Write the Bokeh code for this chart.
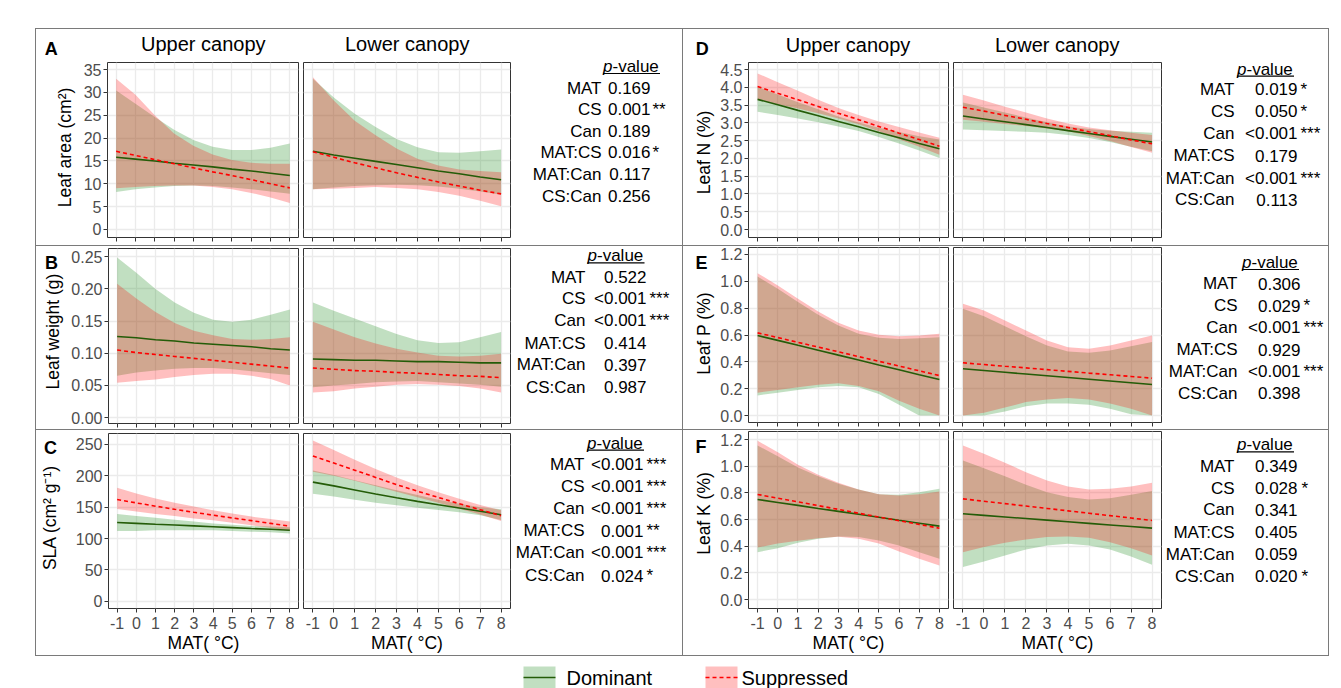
import math
from bokeh.plotting import figure
from bokeh.models import Range1d, FixedTicker, Spacer, LinearAxis, Grid, NumeralTickFormatter
from bokeh.layouts import row, column
from bokeh.embed import file_html
from bokeh.resources import INLINE
from bokeh.core.properties import value

FONT = "Liberation Sans"

# ---------------- data ----------------
mat = [-1, 0, 1, 2, 3, 4, 5, 6, 7, 8]

# A: Leaf area
A_up_dom_fit = [15.8, 15.4, 15.0, 14.5, 14.1, 13.7, 13.2, 12.8, 12.3, 11.8]
A_up_dom_hi = [30.4, 27.5, 24.6, 21.8, 19.6, 18.1, 17.4, 17.4, 17.9, 18.8]
A_up_dom_lo = [8.2, 8.8, 9.2, 9.5, 9.6, 9.5, 9.2, 8.8, 8.3, 7.8]
A_up_sup_fit = [17.1, 16.2, 15.3, 14.4, 13.5, 12.6, 11.8, 10.9, 10.0, 9.1]
A_up_sup_hi = [33.0, 29.5, 25.0, 21.0, 18.3, 16.4, 15.2, 14.6, 14.4, 14.4]
A_up_sup_lo = [9.0, 9.3, 9.5, 9.6, 9.6, 9.3, 8.8, 8.0, 7.0, 5.8]
A_lo_dom_fit = [17.1, 16.3, 15.6, 14.9, 14.2, 13.5, 12.8, 12.2, 11.5, 10.9]
A_lo_dom_hi = [33.0, 28.9, 25.3, 22.4, 19.8, 18.0, 16.9, 16.8, 17.1, 17.5]
A_lo_dom_lo = [8.8, 9.2, 9.5, 9.7, 9.8, 9.7, 9.4, 8.9, 8.3, 7.6]
A_lo_sup_fit = [17.0, 15.8, 14.6, 13.5, 12.4, 11.4, 10.4, 9.5, 8.6, 7.8]
A_lo_sup_hi = [33.3, 28.2, 23.8, 20.6, 17.7, 15.5, 14.0, 13.1, 12.8, 12.5]
A_lo_sup_lo = [8.8, 8.9, 9.1, 9.3, 9.1, 8.8, 8.2, 7.4, 6.3, 5.1]

# B: Leaf weight
B_up_dom_fit = [0.126, 0.124, 0.121, 0.119, 0.116, 0.114, 0.112, 0.110, 0.107, 0.105]
B_up_dom_hi = [0.249, 0.225, 0.200, 0.179, 0.163, 0.152, 0.149, 0.152, 0.160, 0.168]
B_up_dom_lo = [0.065, 0.070, 0.073, 0.076, 0.077, 0.077, 0.075, 0.072, 0.069, 0.066]
B_up_sup_fit = [0.105, 0.101, 0.098, 0.095, 0.092, 0.089, 0.086, 0.083, 0.080, 0.077]
B_up_sup_hi = [0.208, 0.185, 0.164, 0.147, 0.135, 0.128, 0.122, 0.121, 0.122, 0.125]
B_up_sup_lo = [0.054, 0.057, 0.059, 0.063, 0.066, 0.068, 0.068, 0.065, 0.060, 0.050]
B_lo_dom_fit = [0.091, 0.090, 0.089, 0.089, 0.088, 0.087, 0.087, 0.086, 0.085, 0.085]
B_lo_dom_hi = [0.179, 0.166, 0.154, 0.142, 0.130, 0.120, 0.116, 0.117, 0.125, 0.133]
B_lo_dom_lo = [0.047, 0.050, 0.052, 0.055, 0.056, 0.057, 0.055, 0.053, 0.051, 0.048]
B_lo_sup_fit = [0.077, 0.075, 0.073, 0.072, 0.070, 0.069, 0.067, 0.065, 0.064, 0.062]
B_lo_sup_hi = [0.149, 0.137, 0.125, 0.115, 0.107, 0.101, 0.096, 0.095, 0.096, 0.099]
B_lo_sup_lo = [0.039, 0.041, 0.045, 0.048, 0.051, 0.052, 0.051, 0.049, 0.045, 0.039]

# C: SLA
C_up_dom_fit = [125.5, 124.2, 122.8, 121.5, 120.1, 118.7, 117.4, 116.0, 114.7, 113.3]
C_up_dom_hi = [139, 136, 133, 130, 127, 124, 122, 120, 119, 118]
C_up_dom_lo = [112, 112, 113, 113, 113, 113, 112, 111, 110, 108]
C_up_sup_fit = [162.2, 156.8, 151.6, 146.6, 141.8, 137.2, 132.8, 128.5, 124.1, 119.7]
C_up_sup_hi = [181, 172, 164, 157, 151, 145, 140, 135, 131, 127]
C_up_sup_lo = [147, 143, 139, 136, 132, 129, 125, 121, 117, 112]
C_lo_dom_fit = [190, 184, 177.5, 171, 165, 159.3, 154, 148.8, 143.5, 138]
C_lo_dom_hi = [208.5, 201.5, 193, 185, 177, 169.5, 162, 155.5, 150, 146.5]
C_lo_dom_lo = [171.5, 167, 162, 157, 153, 149, 145.5, 142, 137, 129.5]
C_lo_sup_fit = [231.5, 220.5, 209, 197.5, 186, 175.5, 165.5, 155.5, 146, 136.5]
C_lo_sup_hi = [256.5, 241, 225.5, 211, 197.5, 185, 174, 163.5, 153.5, 145]
C_lo_sup_lo = [206.5, 200, 192, 183.5, 174.5, 166, 157, 147.5, 138.5, 128]

# D: Leaf N
D_up_dom_fit = [3.66, 3.51, 3.35, 3.20, 3.04, 2.89, 2.73, 2.58, 2.42, 2.27]
D_up_dom_hi = [4.01, 3.80, 3.58, 3.38, 3.18, 3.01, 2.86, 2.74, 2.62, 2.53]
D_up_dom_lo = [3.31, 3.22, 3.12, 3.02, 2.90, 2.77, 2.60, 2.42, 2.22, 2.01]
D_up_sup_fit = [4.02, 3.83, 3.65, 3.46, 3.27, 3.09, 2.90, 2.71, 2.53, 2.34]
D_up_sup_hi = [4.39, 4.14, 3.90, 3.65, 3.42, 3.22, 3.04, 2.88, 2.73, 2.58]
D_up_sup_lo = [3.65, 3.52, 3.40, 3.27, 3.12, 2.96, 2.76, 2.54, 2.33, 2.10]
D_lo_dom_fit = [3.19, 3.11, 3.03, 2.95, 2.87, 2.78, 2.70, 2.62, 2.54, 2.46]
D_lo_dom_hi = [3.57, 3.43, 3.29, 3.15, 3.02, 2.90, 2.83, 2.78, 2.75, 2.72]
D_lo_dom_lo = [2.81, 2.79, 2.77, 2.75, 2.72, 2.66, 2.57, 2.46, 2.33, 2.20]
D_lo_sup_fit = [3.44, 3.33, 3.21, 3.10, 2.98, 2.87, 2.75, 2.64, 2.52, 2.41]
D_lo_sup_hi = [3.79, 3.63, 3.45, 3.29, 3.12, 2.98, 2.87, 2.79, 2.72, 2.66]
D_lo_sup_lo = [3.09, 3.03, 2.97, 2.91, 2.84, 2.76, 2.63, 2.49, 2.32, 2.16]

# E: Leaf P
E_up_dom_fit = [0.596, 0.560, 0.523, 0.487, 0.450, 0.414, 0.377, 0.341, 0.304, 0.268]
E_up_dom_hi = [1.036, 0.944, 0.845, 0.750, 0.671, 0.609, 0.579, 0.571, 0.576, 0.584]
E_up_dom_lo = [0.15, 0.17, 0.19, 0.21, 0.22, 0.21, 0.16, 0.08, 0.0, 0.0]
E_up_sup_fit = [0.616, 0.581, 0.545, 0.510, 0.475, 0.439, 0.404, 0.369, 0.333, 0.298]
E_up_sup_hi = [1.061, 0.969, 0.870, 0.775, 0.691, 0.634, 0.601, 0.591, 0.596, 0.609]
E_up_sup_lo = [0.17, 0.19, 0.21, 0.23, 0.24, 0.22, 0.18, 0.11, 0.05, 0.0]
E_lo_dom_fit = [0.348, 0.335, 0.322, 0.309, 0.296, 0.283, 0.270, 0.257, 0.244, 0.231]
E_lo_dom_hi = [0.795, 0.740, 0.666, 0.591, 0.522, 0.477, 0.467, 0.484, 0.517, 0.547]
E_lo_dom_lo = [0.0, 0.0, 0.03, 0.07, 0.09, 0.09, 0.08, 0.05, 0.01, 0.0]
E_lo_sup_fit = [0.393, 0.380, 0.367, 0.355, 0.342, 0.329, 0.316, 0.304, 0.291, 0.278]
E_lo_sup_hi = [0.832, 0.783, 0.708, 0.634, 0.559, 0.509, 0.497, 0.522, 0.559, 0.596]
E_lo_sup_lo = [0.0, 0.02, 0.06, 0.10, 0.12, 0.13, 0.12, 0.09, 0.05, 0.0]

# F: Leaf K
F_up_dom_fit = [0.750, 0.728, 0.706, 0.683, 0.661, 0.639, 0.617, 0.594, 0.572, 0.550]
F_up_dom_hi = [1.155, 1.075, 0.990, 0.925, 0.868, 0.825, 0.790, 0.785, 0.805, 0.830]
F_up_dom_lo = [0.355, 0.385, 0.425, 0.455, 0.473, 0.468, 0.443, 0.405, 0.355, 0.305]
F_up_sup_fit = [0.788, 0.760, 0.732, 0.704, 0.676, 0.647, 0.619, 0.591, 0.563, 0.535]
F_up_sup_hi = [1.190, 1.105, 1.010, 0.935, 0.875, 0.825, 0.790, 0.780, 0.790, 0.810]
F_up_sup_lo = [0.390, 0.420, 0.440, 0.460, 0.470, 0.455, 0.420, 0.360, 0.305, 0.255]
F_lo_dom_fit = [0.643, 0.631, 0.619, 0.607, 0.595, 0.583, 0.571, 0.559, 0.547, 0.535]
F_lo_dom_hi = [1.043, 0.985, 0.925, 0.860, 0.805, 0.768, 0.750, 0.760, 0.785, 0.813]
F_lo_dom_lo = [0.243, 0.285, 0.330, 0.375, 0.405, 0.418, 0.405, 0.375, 0.323, 0.260]
F_lo_sup_fit = [0.755, 0.737, 0.719, 0.701, 0.683, 0.665, 0.647, 0.629, 0.611, 0.593]
F_lo_sup_hi = [1.155, 1.093, 1.025, 0.955, 0.893, 0.848, 0.825, 0.830, 0.848, 0.875]
F_lo_sup_lo = [0.355, 0.393, 0.425, 0.450, 0.468, 0.473, 0.463, 0.430, 0.385, 0.330]

# axis ticks
yticks_A = [0, 5, 10, 15, 20, 25, 30, 35]
yticks_B = [0.0, 0.05, 0.10, 0.15, 0.20, 0.25]
yticks_C = [0, 50, 100, 150, 200, 250]
yticks_D = [0.0, 0.5, 1.0, 1.5, 2.0, 2.5, 3.0, 3.5, 4.0, 4.5]
yticks_EF = [0.0, 0.2, 0.4, 0.6, 0.8, 1.0, 1.2]

# p-value tables
terms = ["MAT", "CS", "Can", "MAT:CS", "MAT:Can", "CS:Can"]
pv_A = ["0.169", "0.001", "0.189", "0.016", "0.117", "0.256"]
st_A = ["", "**", "", "*", "", ""]
pv_B = ["0.522", "<0.001", "<0.001", "0.414", "0.397", "0.987"]
st_B = ["", "***", "***", "", "", ""]
pv_C = ["<0.001", "<0.001", "<0.001", "0.001", "<0.001", "0.024"]
st_C = ["***", "***", "***", "**", "***", "*"]
pv_D = ["0.019", "0.050", "<0.001", "0.179", "<0.001", "0.113"]
st_D = ["*", "*", "***", "", "***", ""]
pv_E = ["0.306", "0.029", "<0.001", "0.929", "<0.001", "0.398"]
st_E = ["", "*", "***", "", "***", ""]
pv_F = ["0.349", "0.028", "0.341", "0.405", "0.059", "0.020"]
st_F = ["", "*", "", "", "", "*"]

# ---------------- style ----------------
GREEN = "#228B22"
GREEN_A = 0.28
RED = "#FF0000"
RED_A = 0.25
DOM_LINE = "#245c08"
SUP_LINE = "#ff0000"
BORDER = "#7a7a7a"
GRID = "#ebebeb"
TICK_TXT = "#4d4d4d"


def blank(width, height):
    p = figure(width=width, height=height, x_range=Range1d(0, width), y_range=Range1d(height, 0),
               x_axis_type=None, y_axis_type=None, toolbar_location=None, output_backend="svg",
               min_border=0, title_location=None, frame_align=False)
    p.outline_line_color = None
    return p


def panel(width, height, bl, br, bt, bb, yr, dom, sup, yticks, yfmt=None, show_y=False, xlab=False):
    p = figure(width=width, height=height, x_range=Range1d(-1.45, 8.45), y_range=Range1d(*yr),
               x_axis_type=None, y_axis_type=None, toolbar_location=None, output_backend="svg",
               min_border_left=bl, min_border_right=br, min_border_top=bt, min_border_bottom=bb,
               frame_align=False, title_location=None)
    p.outline_line_color = "#333333"
    p.outline_line_width = 1
    p.add_layout(Grid(dimension=0, ticker=FixedTicker(ticks=mat), grid_line_color=GRID, grid_line_width=1.3))
    p.add_layout(Grid(dimension=1, ticker=FixedTicker(ticks=yticks), grid_line_color=GRID, grid_line_width=1.3))

    p.varea(x=mat, y1=dom[2], y2=dom[1], fill_color=GREEN, fill_alpha=GREEN_A)
    p.varea(x=mat, y1=sup[2], y2=sup[1], fill_color=RED, fill_alpha=RED_A)
    p.line(x=mat, y=dom[0], line_color=DOM_LINE, line_width=1.6)
    p.line(x=mat, y=sup[0], line_color=SUP_LINE, line_width=1.6, line_dash="4 3")

    xa = LinearAxis(ticker=FixedTicker(ticks=mat), axis_line_color=None,
                    major_tick_line_color="#333333", major_tick_out=4, major_tick_in=0,
                    minor_tick_line_color=None, major_label_text_font=FONT,
                    major_label_overrides={-1: "-1"})
    if xlab:
        xa.major_label_text_font_size = "16px"
        xa.major_label_text_color = TICK_TXT
        xa.major_label_standoff = 4
        xa.axis_label = "MAT( °C)"
        xa.axis_label_text_font = FONT
        xa.axis_label_text_font_size = "17.5px"
        xa.axis_label_text_font_style = "normal"
        xa.axis_label_text_color = "black"
        xa.axis_label_standoff = 1
    else:
        xa.major_label_text_font_size = "1px"
        xa.major_label_text_color = None
        xa.major_label_standoff = 0
    p.add_layout(xa, "below")

    if show_y:
        ya = LinearAxis(ticker=FixedTicker(ticks=yticks), formatter=NumeralTickFormatter(format=yfmt),
                        axis_line_color=None, major_tick_line_color="#333333", major_tick_out=4,
                        major_tick_in=0, minor_tick_line_color=None, major_label_text_font=FONT,
                        major_label_text_font_size="16px", major_label_text_color=TICK_TXT,
                        major_label_standoff=2)
        p.add_layout(ya, "left")
    return p


def heading(width, height, x0, y0, text, cx, cy):
    p = blank(width, height)
    p.text(x=[cx - x0], y=[cy - y0 + 0.8], text=[text], text_font=value(FONT), text_font_size="20px",
           text_align="center", text_baseline="middle", text_color="black")
    return p


def strip(width, height, x0, y0, letter, lx, ly, ylabel, tx, ty):
    p = blank(width, height)
    p.text(x=[lx - x0], y=[ly - y0], text=[letter], text_font=value(FONT), text_font_size="18px",
           text_font_style="bold", text_align="center", text_baseline="middle", text_color="black")
    p.text(x=[tx - x0], y=[ty - y0], text=[ylabel], angle=math.pi / 2, text_font=value(FONT),
           text_font_size="17.5px", text_align="center", text_baseline="middle", text_color="black")
    return p


def table(width, height, x0, y0, hc, hy, lr, vr, sl, rows_y, pv, st):
    p = blank(width, height)
    ys = [r - y0 + 0.8 for r in rows_y]
    common = dict(text_font=value(FONT), text_font_size="17px", text_baseline="middle", text_color="black")
    p.text(x=[lr - x0] * len(terms), y=ys, text=terms, text_align="right", **common)
    p.text(x=[vr - x0] * len(pv), y=ys, text=pv, text_align="right", **common)
    p.text(x=[sl - x0] * len(st), y=ys, text=st, text_align="left", **common)
    hl = hc - 28.5 - x0
    p.text(x=[hl], y=[hy - y0 + 0.8], text=["p"], text_align="left", text_font_style="italic", **common)
    p.text(x=[hl + 9.5], y=[hy - y0 + 0.8], text=["-value"], text_align="left", **common)
    p.line(x=[hl, hl + 57], y=[hy - y0 + 8, hy - y0 + 8], line_color="black", line_width=1.2)
    return p


# ---------------- strips (panel letter + y-axis title) ----------------
sA = strip(40, 216, 36, 29, "A", 50.7, 48, "Leaf area (cm²)", 64, 147)
sB = strip(32, 183, 36, 246, "B", 51, 262, "Leaf weight (g)", 52.5, 331)
sC = strip(36, 225, 36, 430, "C", 50, 447.5, "SLA (cm² g⁻¹)", 49, 517)
sD = strip(33, 216, 683, 29, "D", 701.7, 48, "Leaf N (%)", 703, 152)
sE = strip(33, 183, 683, 246, "E", 701, 262.8, "Leaf P (%)", 703.5, 333)
sF = strip(33, 225, 683, 430, "F", 700.5, 446.7, "Leaf K (%)", 703.5, 513)

# ---------------- headings ----------------
hA_u = heading(224, 32, 76, 29, "Upper canopy", 202.8, 42.8)
hA_l = heading(212, 32, 300, 29, "Lower canopy", 406.7, 42.8)
hD_u = heading(234, 32, 716, 29, "Upper canopy", 847.5, 43.5)
hD_l = heading(213, 32, 950, 29, "Lower canopy", 1056.7, 43.5)

# ---------------- panels ----------------
A_u = panel(224, 184, 31, 2, 1, 8, (-1.75, 36.53),
            (A_up_dom_fit, A_up_dom_hi, A_up_dom_lo), (A_up_sup_fit, A_up_sup_hi, A_up_sup_lo),
            yticks_A, "0", True)
A_l = panel(212, 184, 3, 2, 1, 8, (-1.75, 36.53),
            (A_lo_dom_fit, A_lo_dom_hi, A_lo_dom_lo), (A_lo_sup_fit, A_lo_sup_hi, A_lo_sup_lo),
            yticks_A)
D_u = panel(234, 184, 32, 2, 1, 8, (-0.225, 4.697),
            (D_up_dom_fit, D_up_dom_hi, D_up_dom_lo), (D_up_sup_fit, D_up_sup_hi, D_up_sup_lo),
            yticks_D, "0.0", True)
D_l = panel(213, 184, 3, 2, 1, 8, (-0.225, 4.697),
            (D_lo_dom_fit, D_lo_dom_hi, D_lo_dom_lo), (D_lo_sup_fit, D_lo_sup_hi, D_lo_sup_lo),
            yticks_D)

B_u = panel(232, 183, 39, 2, 2, 6, (-0.0093, 0.2629),
            (B_up_dom_fit, B_up_dom_hi, B_up_dom_lo), (B_up_sup_fit, B_up_sup_hi, B_up_sup_lo),
            yticks_B, "0.00", True)
B_l = panel(212, 183, 3, 2, 2, 6, (-0.0093, 0.2629),
            (B_lo_dom_fit, B_lo_dom_hi, B_lo_dom_lo), (B_lo_sup_fit, B_lo_sup_hi, B_lo_sup_lo),
            yticks_B)
E_u = panel(234, 183, 32, 2, 1, 7, (-0.052, 1.252),
            (E_up_dom_fit, E_up_dom_hi, E_up_dom_lo), (E_up_sup_fit, E_up_sup_hi, E_up_sup_lo),
            yticks_EF, "0.0", True)
E_l = panel(213, 183, 3, 2, 1, 7, (-0.052, 1.252),
            (E_lo_dom_fit, E_lo_dom_hi, E_lo_dom_lo), (E_lo_sup_fit, E_lo_sup_hi, E_lo_sup_lo),
            yticks_EF)

C_u = panel(228, 225, 35, 2, 3, 47, (-11.6, 267.5),
            (C_up_dom_fit, C_up_dom_hi, C_up_dom_lo), (C_up_sup_fit, C_up_sup_hi, C_up_sup_lo),
            yticks_C, "0", True, xlab=True)
C_l = panel(212, 225, 3, 2, 3, 47, (-11.6, 267.5),
            (C_lo_dom_fit, C_lo_dom_hi, C_lo_dom_lo), (C_lo_sup_fit, C_lo_sup_hi, C_lo_sup_lo),
            yticks_C, xlab=True)
F_u = panel(234, 225, 32, 2, 1, 47, (-0.0675, 1.26),
            (F_up_dom_fit, F_up_dom_hi, F_up_dom_lo), (F_up_sup_fit, F_up_sup_hi, F_up_sup_lo),
            yticks_EF, "0.0", True, xlab=True)
F_l = panel(213, 225, 3, 2, 1, 47, (-0.0675, 1.26),
            (F_lo_dom_fit, F_lo_dom_hi, F_lo_dom_lo), (F_lo_sup_fit, F_lo_sup_hi, F_lo_sup_lo),
            yticks_EF, xlab=True)

# ---------------- tables ----------------
tA = table(170, 216, 512, 29, 631, 65, 601, 650, 652, [86.7, 108, 130, 151, 173, 195], pv_A, st_A)
tB = table(170, 183, 512, 246, 615.5, 254.3, 585, 646, 649, [276, 296.7, 319.3, 341.7, 363.3, 385.7], pv_B, st_B)
tC = table(170, 225, 512, 430, 615, 441.7, 584, 643, 646, [463.3, 485, 507.3, 529.3, 551, 574.3], pv_C, st_C)
tD = table(165, 216, 1163, 29, 1265, 67.7, 1234, 1297, 1300, [87.7, 110, 132.3, 154.3, 176.7, 198.3], pv_D, st_D)
tE = table(165, 183, 1163, 246, 1270, 261, 1237, 1300, 1303, [282.3, 304.3, 325.7, 348.3, 370, 391.7], pv_E, st_E)
tF = table(165, 225, 1163, 430, 1265, 443.3, 1234, 1297, 1301, [465, 486.7, 508.3, 531, 552.7, 575], pv_F, st_F)


def hline(w):
    return Spacer(width=w, height=1, margin=0, styles={"background-color": BORDER})


def vline(h):
    return Spacer(width=1, height=h, margin=0, styles={"background-color": BORDER})


r1 = row(vline(216), sA, column(hA_u, A_u, spacing=0), column(hA_l, A_l, spacing=0), tA,
         vline(216), sD, column(hD_u, D_u, spacing=0), column(hD_l, D_l, spacing=0), tD,
         vline(216), spacing=0)
r2 = row(vline(183), sB, B_u, B_l, tB, vline(183), sE, E_u, E_l, tE, vline(183), spacing=0)
r3 = row(vline(225), sC, C_u, C_l, tC, vline(225), sF, F_u, F_l, tF, vline(225), spacing=0)
block = column(hline(1294), r1, hline(1294), r2, hline(1294), r3, hline(1294), spacing=0)

# ---------------- legend ----------------
leg = blank(1341, 32)
leg.quad(left=[523], right=[555], top=[10], bottom=[32], fill_color=GREEN, fill_alpha=GREEN_A, line_color=None)
leg.line(x=[523, 555], y=[21, 21], line_color=DOM_LINE, line_width=1.6)
leg.quad(left=[705], right=[737], top=[10], bottom=[32], fill_color=RED, fill_alpha=RED_A, line_color=None)
leg.line(x=[705, 737], y=[21, 21], line_color=SUP_LINE, line_width=1.6, line_dash="4 3")
leg.text(x=[566, 741], y=[21.5, 21.5], text=["Dominant", "Suppressed"], text_font=value(FONT),
         text_font_size="20px", text_baseline="middle", text_align="left", text_color="black")

page = column(Spacer(width=1341, height=28, margin=0),
              row(Spacer(width=35, height=628, margin=0), block, spacing=0),
              leg, spacing=0)

open("out.html", "w").write(file_html(page, INLINE))
